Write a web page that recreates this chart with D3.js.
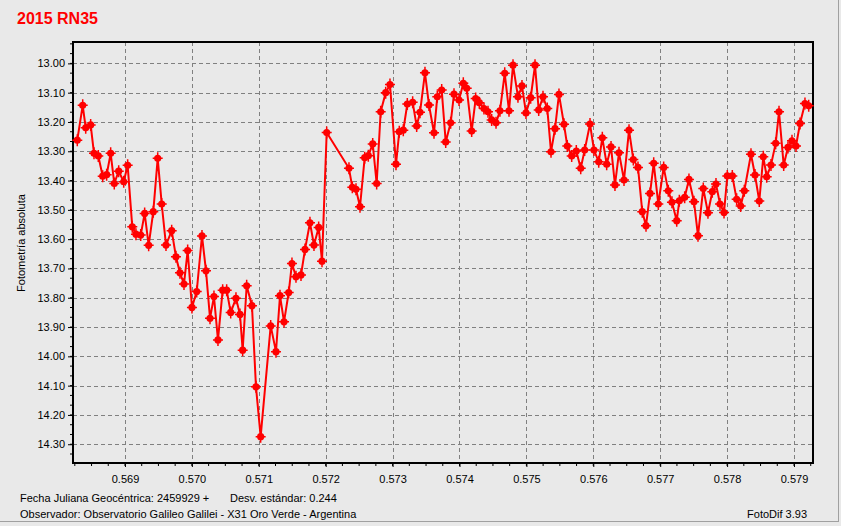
<!DOCTYPE html>
<html><head><meta charset="utf-8">
<script src="https://cdn.jsdelivr.net/npm/d3@7"></script>
<style>
html,body{margin:0;padding:0;background:#e9e9e9;}
svg{display:block;}
text{font-family:"Liberation Sans",Arial,sans-serif;}
</style></head>
<body>
<svg id="c" width="841" height="526"></svg>
<script>
const title = "2015 RN35";
const yLabel = "Fotometría absoluta";
const footLeft1 = "Fecha Juliana Geocéntrica: 2459929 +";
const footMid1 = "Desv. estándar: 0.244";
const footLeft2 = "Observador: Observatorio Galileo Galilei - X31 Oro Verde - Argentina";
const footRight2 = "FotoDif 3.93";

const xTicks = [0.569,0.570,0.571,0.572,0.573,0.574,0.575,0.576,0.577,0.578,0.579];
const yTicks = [13.00,13.10,13.20,13.30,13.40,13.50,13.60,13.70,13.80,13.90,14.00,14.10,14.20,14.30];

const jd = [0.568287,0.568368,0.568413,0.568487,0.568537,0.568601,0.568667,0.568726,0.568786,0.56884,
0.568906,0.568981,0.56904,0.569109,0.569164,0.569235,0.569294,0.569354,0.569423,0.569489,
0.569549,0.569613,0.569698,0.569762,0.569822,0.569882,0.569937,0.570001,0.570072,0.570151,
0.570211,0.570271,0.57033,0.57039,0.57046,0.57052,0.57058,0.570659,0.570719,0.570759,
0.570819,0.570898,0.570958,0.571028,0.571178,0.571257,0.571317,0.571377,0.571447,0.571496,
0.571556,0.571631,0.571691,0.571765,0.571825,0.571895,0.571945,0.572015,0.572348,0.572398,
0.572453,0.572513,0.572583,0.572637,0.572703,0.572762,0.572822,0.572897,0.572961,0.573051,
0.5731,0.57316,0.57322,0.5733,0.57336,0.57341,0.573484,0.573544,0.573619,0.573668,
0.573734,0.573794,0.573868,0.573918,0.573993,0.574057,0.574108,0.574182,0.574242,0.574296,
0.574366,0.574426,0.574481,0.574546,0.574605,0.574676,0.57474,0.5748,0.574874,0.574934,
0.574994,0.575064,0.575129,0.575184,0.575248,0.575312,0.575368,0.575428,0.575487,0.575562,
0.575611,0.575677,0.575746,0.575812,0.575871,0.575951,0.57601,0.576081,0.576135,0.5762,
0.576265,0.576324,0.576384,0.576459,0.576534,0.576598,0.576668,0.576732,0.576788,0.576848,
0.576903,0.576972,0.577052,0.577121,0.577176,0.577247,0.577286,0.577366,0.57743,0.577505,
0.577565,0.577644,0.577714,0.577779,0.577834,0.577894,0.577954,0.578003,0.578078,0.578143,
0.578203,0.578257,0.578357,0.578417,0.578481,0.578541,0.578592,0.578656,0.578726,0.578776,
0.578846,0.57891,0.57897,0.57903,0.57909,0.579164,0.57922];

const mag = [13.262,13.143,13.22,13.21,13.307,13.316,13.385,13.38,13.307,13.41,
13.368,13.404,13.348,13.558,13.583,13.586,13.512,13.621,13.506,13.324,
13.48,13.62,13.571,13.66,13.715,13.753,13.639,13.833,13.779,13.589,
13.708,13.87,13.796,13.944,13.774,13.774,13.85,13.802,13.857,13.979,
13.759,13.827,14.104,14.274,13.896,13.984,13.793,13.882,13.782,13.683,
13.728,13.722,13.635,13.544,13.62,13.56,13.675,13.236,13.358,13.423,
13.43,13.489,13.322,13.315,13.275,13.41,13.165,13.10,13.072,13.344,
13.233,13.228,13.139,13.133,13.214,13.167,13.032,13.142,13.237,13.114,
13.091,13.268,13.203,13.105,13.125,13.068,13.085,13.231,13.12,13.134,
13.154,13.165,13.193,13.203,13.162,13.034,13.162,13.006,13.114,13.077,
13.169,13.117,13.006,13.159,13.114,13.154,13.302,13.223,13.106,13.208,
13.282,13.316,13.299,13.358,13.296,13.207,13.296,13.336,13.254,13.344,
13.285,13.415,13.305,13.398,13.228,13.328,13.355,13.506,13.554,13.444,
13.341,13.48,13.355,13.435,13.474,13.537,13.469,13.457,13.396,13.472,
13.588,13.427,13.51,13.438,13.412,13.48,13.509,13.384,13.384,13.464,
13.487,13.435,13.31,13.381,13.47,13.319,13.387,13.347,13.273,13.165,
13.347,13.287,13.264,13.282,13.205,13.137,13.145];

const svg = d3.select("#c");
const L = 73, T = 42, R = 813, B = 463;

const x = d3.scaleLinear().domain([0.568223, 0.579284]).range([L, R]);
const y = d3.scaleLinear().domain([12.927, 14.364]).range([T, B]);

// window frame
svg.append("rect").attr("x",0).attr("y",0).attr("width",841).attr("height",526).attr("fill","#e9e9e9");
svg.append("line").attr("x1",0).attr("x2",839).attr("y1",521.5).attr("y2",521.5).attr("stroke","#a0a0a0");
svg.append("line").attr("x1",838.5).attr("x2",838.5).attr("y1",0).attr("y2",522).attr("stroke","#a0a0a0");

// title
svg.append("text").attr("x",17).attr("y",23.5).attr("fill","#ff0000")
  .attr("font-size","16px").attr("font-weight","bold").text(title);

// grid
const g = svg.append("g");
g.selectAll(".gx").data(xTicks).join("line")
  .attr("x1",d=>Math.round(x(d))+0.5).attr("x2",d=>Math.round(x(d))+0.5)
  .attr("y1",T).attr("y2",B).attr("stroke","#808080").attr("stroke-dasharray","4,3");
g.selectAll(".gy").data(yTicks).join("line")
  .attr("y1",d=>Math.round(y(d))+0.5).attr("y2",d=>Math.round(y(d))+0.5)
  .attr("x1",L).attr("x2",R).attr("stroke","#808080").attr("stroke-dasharray","4,3");

// axes
const xAxis = d3.axisBottom(x).tickValues(xTicks).tickFormat(d3.format(".3f")).tickSize(4).tickPadding(8);
const ax = svg.append("g").attr("transform",`translate(0,${B})`).call(xAxis);
const yAxis = d3.axisLeft(y).tickValues(yTicks).tickFormat(d3.format(".2f")).tickSize(5).tickPadding(3);
const ay = svg.append("g").attr("transform",`translate(${L},0)`).call(yAxis);
[ax, ay].forEach(a => {
  a.select(".domain").remove();
  a.selectAll("line").attr("stroke","#000");
  a.selectAll("text").attr("font-family","'Liberation Sans',Arial,sans-serif").attr("font-size","11px").attr("fill","#000");
});

// minor ticks
const xMinor = d3.range(0.56825, 0.5793, 0.00025).filter(v => x(v) > L+1 && x(v) < R-1);
svg.append("g").selectAll("line").data(xMinor).join("line")
  .attr("x1",d=>x(d)).attr("x2",d=>x(d)).attr("y1",B).attr("y2",B+3).attr("stroke","#000");
const yMinor = d3.range(12.9333, 14.36, 0.1/3).filter(v => y(v) > T+1 && y(v) < B-1);
svg.append("g").selectAll("line").data(yMinor).join("line")
  .attr("y1",d=>y(d)).attr("y2",d=>y(d)).attr("x1",L-3).attr("x2",L).attr("stroke","#000");

// frame
svg.append("rect").attr("x",L).attr("y",T).attr("width",R-L).attr("height",B-T)
  .attr("fill","none").attr("stroke","#000").attr("stroke-width",2);

// y label
svg.append("text").attr("transform",`translate(25,243) rotate(-90)`).attr("text-anchor","middle")
  .attr("font-size","11px").attr("fill","#000").text(yLabel);

// data
const pts = jd.map((d,i)=>({x:d, y:mag[i]}));
const line = d3.line().x(d=>x(d.x)).y(d=>y(d.y));
svg.append("path").datum(pts).attr("d",line).attr("fill","none").attr("stroke","#ff0000").attr("stroke-width",2);
const mk = svg.append("g").selectAll("g").data(pts).join("g")
  .attr("transform",d=>`translate(${x(d.x)},${y(d.y)})`);
mk.append("path").attr("d","M0,-6V6M-5,0H5").attr("stroke","#ff0000").attr("stroke-width",1.5);
mk.append("circle").attr("r",3.6).attr("fill","#ff0000");

// footer
svg.append("text").attr("x",20).attr("y",502).attr("font-size","11px").text(footLeft1);
svg.append("text").attr("x",230).attr("y",502).attr("font-size","11px").text(footMid1);
svg.append("text").attr("x",20).attr("y",518).attr("font-size","11px").text(footLeft2);
svg.append("text").attr("x",807).attr("y",518).attr("text-anchor","end").attr("font-size","11px").text(footRight2);
</script>
</body></html>
